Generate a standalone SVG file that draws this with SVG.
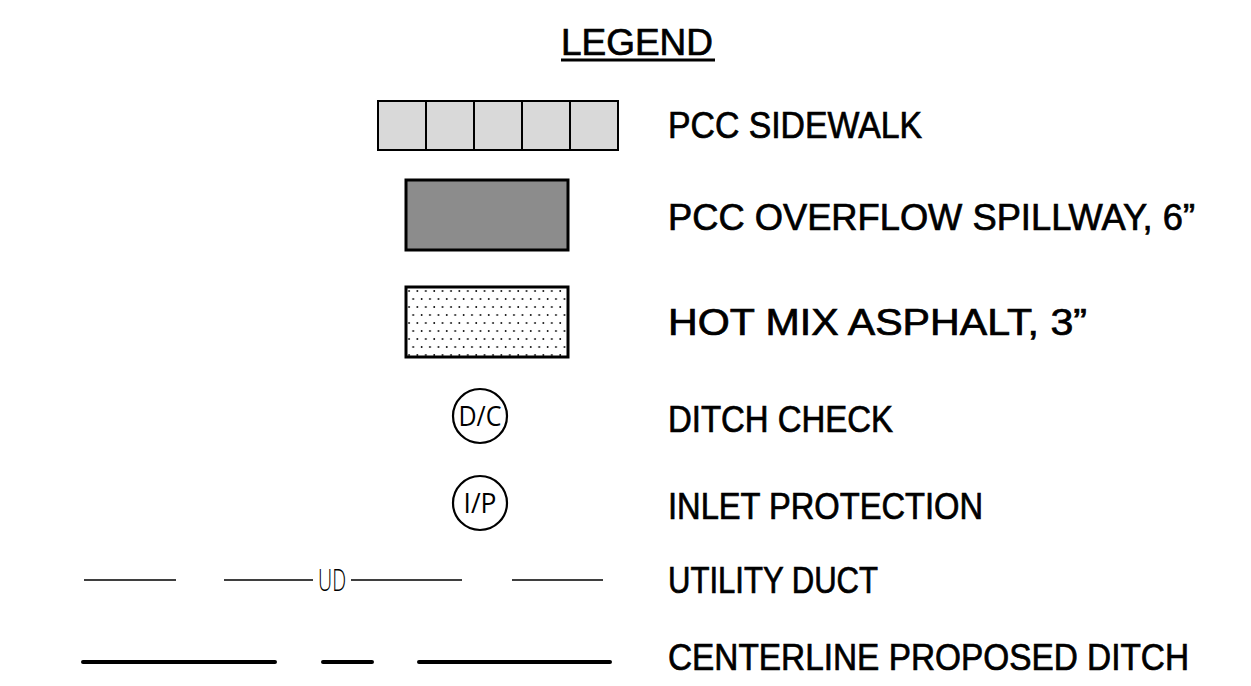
<svg xmlns="http://www.w3.org/2000/svg" width="1251" height="686" viewBox="0 0 1251 686">
<style>
.lbl{font-family:"Liberation Sans",Arial,sans-serif;font-size:36px;fill:#000;stroke:#000;stroke-width:0.7}
.sym{font-family:"Open Sans","Liberation Sans",sans-serif;fill:#000}
.ol{stroke:#000;stroke-width:3}
.thin{stroke:#000;stroke-width:1.3;fill:none}
.thick{stroke:#000;stroke-width:4;stroke-linecap:round;fill:none}
</style>
<defs>
<pattern id="dots" x="406" y="287" width="8.4" height="16" patternUnits="userSpaceOnUse">
<circle cx="3" cy="4" r="0.9" fill="#000"/>
<circle cx="7.2" cy="12" r="0.9" fill="#000"/>
</pattern>
</defs>
<rect width="1251" height="686" fill="#fff"/>
<g id="title">
<text class="lbl" x="561" y="55" font-size="40" textLength="152" lengthAdjust="spacingAndGlyphs">LEGEND</text>
<line x1="561" y1="60" x2="715" y2="60" stroke="#000" stroke-width="3"/>
</g>
<g id="sidewalk">
<rect x="378" y="101" width="240" height="49" fill="#d9d9d9" stroke="#000" stroke-width="2"/>
<path d="M426 101V150M474 101V150M522 101V150M570 101V150" stroke="#000" stroke-width="2"/>
<text class="lbl" x="668" y="138" textLength="254" lengthAdjust="spacingAndGlyphs">PCC SIDEWALK</text>
</g>
<g id="spillway">
<rect x="406" y="180" width="162" height="70" fill="#8c8c8c" class="ol"/>
<text class="lbl" x="668" y="230" textLength="527" lengthAdjust="spacingAndGlyphs">PCC OVERFLOW SPILLWAY, 6”</text>
</g>
<g id="asphalt">
<rect x="406" y="287" width="162" height="70" fill="#fff"/>
<rect x="406" y="287" width="162" height="70" fill="url(#dots)" class="ol"/>
<text class="lbl" x="668" y="335" textLength="419" lengthAdjust="spacingAndGlyphs">HOT MIX ASPHALT, 3”</text>
</g>
<g id="ditch-check">
<circle cx="480" cy="416" r="27" fill="#fff" stroke="#000" stroke-width="2.2"/>
<text class="sym" x="480" y="426" font-size="27" text-anchor="middle" textLength="43" lengthAdjust="spacingAndGlyphs">D/C</text>
<text class="lbl" x="668" y="432" textLength="225" lengthAdjust="spacingAndGlyphs">DITCH CHECK</text>
</g>
<g id="inlet-protection">
<circle cx="480" cy="503" r="27" fill="#fff" stroke="#000" stroke-width="2.2"/>
<text class="sym" x="480" y="513" font-size="27" text-anchor="middle" textLength="33" lengthAdjust="spacingAndGlyphs">I/P</text>
<text class="lbl" x="668" y="519" textLength="315" lengthAdjust="spacingAndGlyphs">INLET PROTECTION</text>
</g>
<g id="utility-duct">
<path class="thin" d="M84 580H176M224 580H313M351 580H462M512 580H603"/>
<text class="sym" x="318" y="591" font-size="31" font-weight="300" textLength="28" lengthAdjust="spacingAndGlyphs">UD</text>
<text class="lbl" x="668" y="593" textLength="210" lengthAdjust="spacingAndGlyphs">UTILITY DUCT</text>
</g>
<g id="centerline-ditch">
<path class="thick" d="M83 662H275M323 662H372M419 662H610"/>
<text class="lbl" x="668" y="670" textLength="521" lengthAdjust="spacingAndGlyphs">CENTERLINE PROPOSED DITCH</text>
</g>
</svg>
